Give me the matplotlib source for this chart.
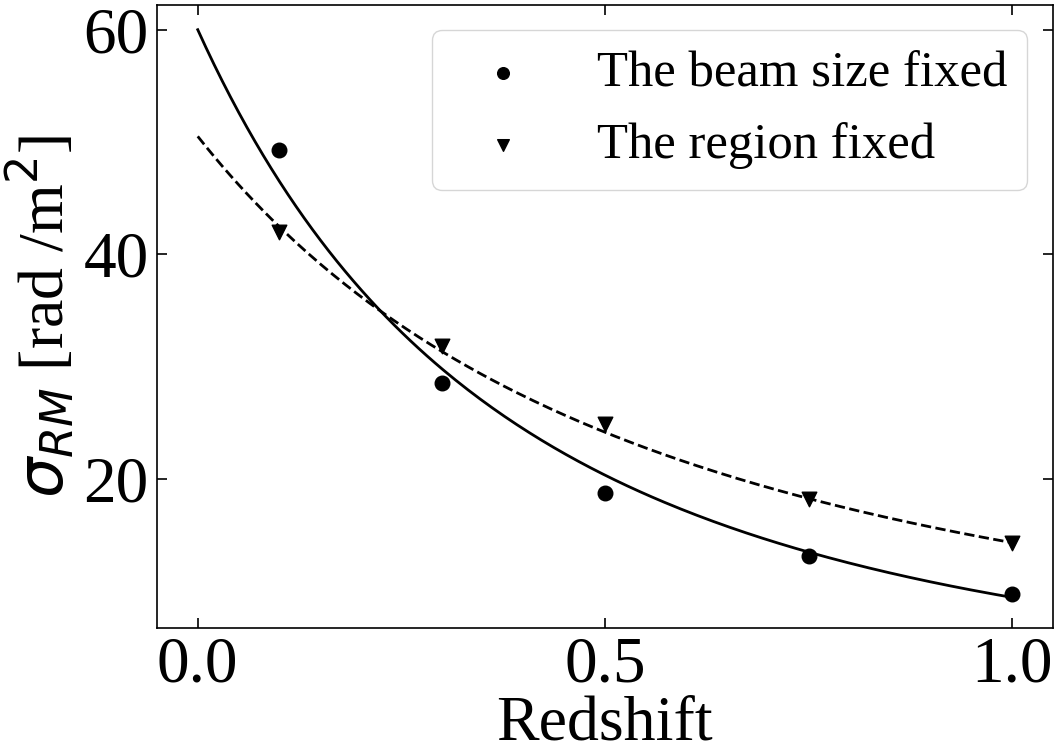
import numpy as np
import matplotlib.pyplot as plt

plt.rcParams['font.family'] = ['Liberation Serif', 'DejaVu Serif']
plt.rcParams['mathtext.fontset'] = 'dejavusans'

# measured points
z = [0.1, 0.3, 0.5, 0.75, 1.0]
sigma_beam = [49.3, 28.5, 18.7, 13.1, 9.75]
sigma_region = [42.0, 31.8, 24.9, 18.2, 14.3]

# fitted curves sigma = A * (1+z)^(-n)
fit_beam = (60.0, 2.67)
fit_region = (50.5, 1.82)

zz = np.linspace(0, 1, 200)

fig = plt.figure(figsize=(10.56, 7.48), dpi=100)
ax = fig.add_axes([0.1487, 0.1604, 0.8483, 0.8329])

ax.plot(zz, fit_beam[0] * (1 + zz) ** (-fit_beam[1]), color='black', lw=2)
ax.plot(zz, fit_region[0] * (1 + zz) ** (-fit_region[1]), color='black', lw=2, ls='--')
ax.scatter(z, sigma_beam, color='black', marker='o', s=110, label='The beam size fixed', zorder=3)
ax.scatter(z, sigma_region, color='black', marker='v', s=110, label='The region fixed', zorder=3)

ax.set_xlim(-0.05, 1.05)
ax.set_ylim(6.7, 62.2)
ax.set_xticks([0.0, 0.5, 1.0])
ax.set_yticks([20, 40, 60])
ax.tick_params(direction='in', top=True, right=True, labelsize=47, length=7, width=1.2, pad=6)
for s in ax.spines.values():
    s.set_linewidth(1.2)

ax.set_xlabel('Redshift', fontsize=46, labelpad=0)
ax.set_ylabel(r'$\sigma_{RM}$ [rad /m$^2$]', fontsize=46, labelpad=4)

ax.legend(loc='upper right', fontsize=36.5, handletextpad=0.85, markerscale=0.8,
          borderaxespad=0.5, borderpad=0.4, labelspacing=0.5)

fig.savefig('out.png', dpi=100)
